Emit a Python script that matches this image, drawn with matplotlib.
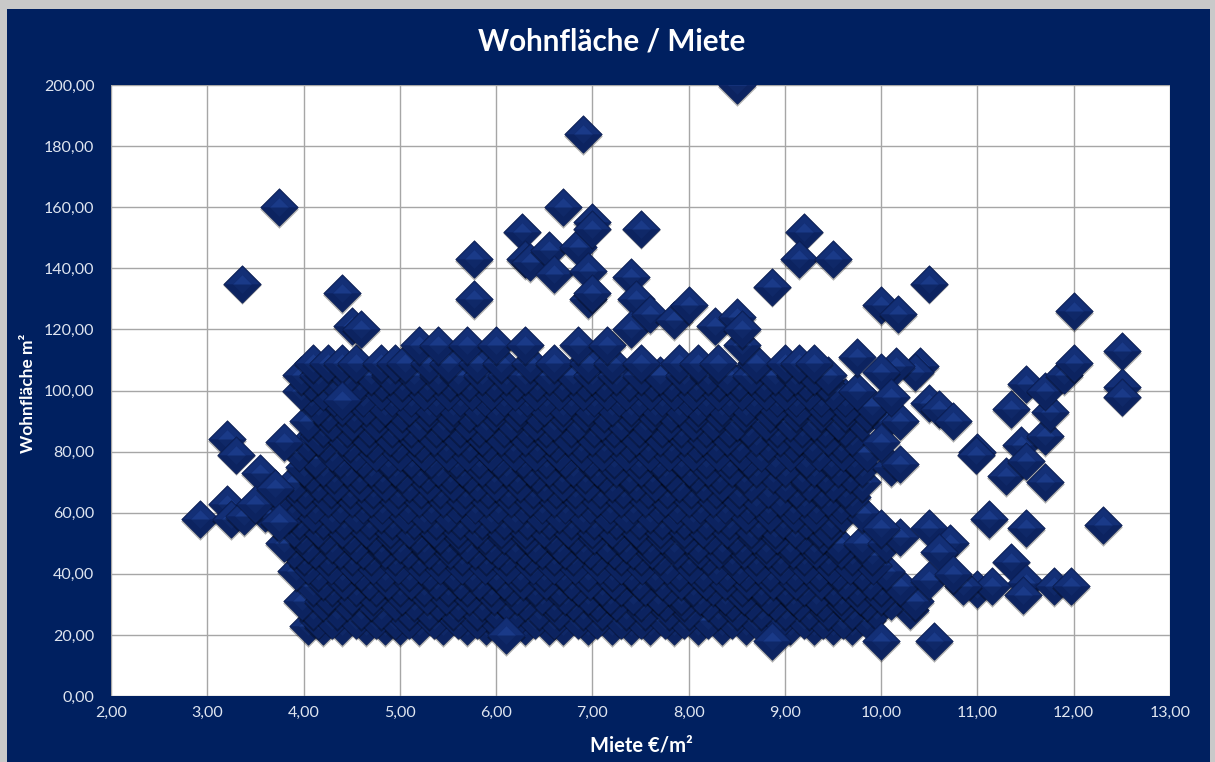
import matplotlib
matplotlib.use("Agg")
import matplotlib.pyplot as plt
from matplotlib.path import Path
from matplotlib.patches import Rectangle

# scattered points around the block
outlier_rent = [2.92, 3.2, 3.2, 3.25, 3.3, 3.38, 3.36, 3.75, 3.55, 3.5, 3.8, 3.7, 3.75,
                4.4, 4.5, 4.6, 4.4, 5.77, 5.77, 6.27, 6.3, 6.35, 6.55, 6.6, 6.7, 6.9,
                6.85, 6.95, 7.0, 7.0, 6.95, 7.0, 7.5, 7.4, 7.45, 7.4, 7.6, 7.85, 8.0,
                8.5, 8.27, 8.5, 8.55, 8.87, 9.2, 9.15, 9.5, 9.75, 10.0, 10.17, 10.5,
                10.4, 10.35, 10.15, 10.0, 10.5, 10.6, 10.75, 11.0, 10.98, 11.35, 11.5,
                11.3, 11.45, 11.5, 11.7, 11.75, 11.7, 11.9, 12.0, 12.0, 12.5, 12.5,
                12.5, 11.7, 11.12, 11.5, 12.3, 11.35, 11.5, 11.47, 11.8, 11.97, 11.0,
                11.15, 10.85, 10.55, 10.5, 10.72, 10.6, 10.5, 10.75, 10.2, 10.2, 10.2,
                10.1, 10.0, 10.0, 10.0, 8.87, 6.1]
outlier_area = [58, 84, 63, 58, 79, 59, 135, 160, 73, 63, 83, 68, 57,
                132, 121, 120, 97, 143, 130, 152, 143, 142, 146, 138, 160, 184,
                147, 139, 155, 153, 130, 132, 153, 137, 130, 120, 125, 123, 128,
                200, 121, 124, 120, 134, 152, 143, 143, 111, 128, 125, 135,
                108, 106, 108, 106, 96, 94, 90, 80, 79, 94, 102,
                72, 82, 77, 85, 93, 100, 105, 109, 126, 113, 101,
                98, 70, 58, 55, 56, 44, 37, 33, 36, 36, 35,
                36, 36, 18, 55, 50, 47, 38, 40, 52, 76, 90,
                98, 83, 55, 18, 18, 20]

# the dense block, one list of rents per living area
row_23 = [4.05, 4.2, 4.4, 4.65, 4.85, 5.0, 5.2, 5.45, 5.7, 5.9, 6.05, 6.3, 6.55, 6.7, 6.95, 7.2, 7.4, 7.6, 7.85, 8.1, 8.35, 8.6, 8.8, 9.05, 9.3, 9.5, 9.7]
row_25 = [4.15, 4.3, 4.55, 4.75, 4.95, 5.1, 5.35, 5.6, 5.8, 6.0, 6.2, 6.4, 6.6, 6.85, 7.05, 7.3, 7.5, 7.75, 7.95, 8.2, 8.45, 8.7, 8.95, 9.2, 9.4, 9.6, 9.85]
row_28 = [4.1, 4.35, 4.6, 4.8, 5.1, 5.3, 5.55, 5.8, 6.0, 6.2, 6.45, 6.65, 6.9, 7.1, 7.35, 7.55, 7.8, 8.0, 8.3, 8.5, 8.75, 9.0, 9.25, 9.45, 9.7, 9.95, 10.3]
row_31 = [3.98, 4.2, 4.45, 4.7, 4.95, 5.15, 5.4, 5.6, 5.85, 6.1, 6.3, 6.6, 6.8, 7.05, 7.25, 7.5, 7.75, 7.95, 8.2, 8.45, 8.65, 8.9, 9.15, 9.4, 9.6, 9.85, 10.1, 10.35]
row_33 = [4.25, 4.5, 4.72, 5.02, 5.28, 5.48, 5.72, 5.98, 6.22, 6.48, 6.72, 6.95, 7.18, 7.42, 7.68, 7.92, 8.12, 8.38, 8.58, 8.82, 9.08, 9.32, 9.58, 9.78, 10.0]
row_36 = [4.1, 4.3, 4.55, 4.75, 5.0, 5.25, 5.5, 5.7, 5.95, 6.15, 6.4, 6.65, 6.85, 7.1, 7.3, 7.55, 7.8, 8.05, 8.25, 8.55, 8.75, 9.0, 9.2, 9.5, 9.75, 10.0, 10.2]
row_38 = [4.2, 4.42, 4.68, 4.88, 5.12, 5.38, 5.62, 5.82, 6.08, 6.28, 6.52, 6.78, 6.98, 7.22, 7.48, 7.72, 7.92, 8.18, 8.38, 8.62, 8.88, 9.12, 9.38, 9.62, 9.88]
row_41 = [3.92, 4.15, 4.4, 4.6, 4.85, 5.1, 5.3, 5.55, 5.75, 6.0, 6.25, 6.5, 6.7, 6.95, 7.2, 7.4, 7.65, 7.9, 8.15, 8.4, 8.6, 8.85, 9.1, 9.35, 9.55, 9.8, 10.05]
row_43 = [4.05, 4.28, 4.52, 4.72, 4.98, 5.22, 5.42, 5.65, 5.88, 6.12, 6.38, 6.6, 6.82, 7.08, 7.3, 7.52, 7.78, 8.02, 8.28, 8.52, 8.72, 8.98, 9.22, 9.48, 9.68, 9.92]
row_46 = [4.0, 4.25, 4.5, 4.7, 4.95, 5.2, 5.4, 5.65, 5.9, 6.1, 6.35, 6.6, 6.8, 7.05, 7.3, 7.5, 7.7, 8.0, 8.2, 8.45, 8.7, 8.95, 9.2, 9.45, 9.7, 9.9]
row_48 = [3.9, 4.12, 4.38, 4.62, 4.85, 5.08, 5.3, 5.52, 5.78, 6.02, 6.28, 6.48, 6.72, 6.98, 7.22, 7.42, 7.62, 7.88, 8.12, 8.32, 8.58, 8.82, 9.08, 9.32, 9.58]
row_50 = [3.8, 4.05, 4.3, 4.55, 4.8, 5.0, 5.25, 5.5, 5.7, 5.95, 6.2, 6.4, 6.65, 6.9, 7.15, 7.35, 7.6, 7.85, 8.1, 8.35, 8.55, 8.8, 9.05, 9.3, 9.55, 9.8, 10.05]
row_53 = [3.98, 4.22, 4.48, 4.72, 4.92, 5.18, 5.42, 5.62, 5.88, 6.08, 6.32, 6.58, 6.82, 7.02, 7.28, 7.52, 7.72, 7.98, 8.22, 8.48, 8.68, 8.92, 9.18, 9.4]
row_55 = [3.9, 4.15, 4.4, 4.65, 4.9, 5.1, 5.35, 5.6, 5.8, 6.05, 6.3, 6.5, 6.75, 7.0, 7.2, 7.45, 7.7, 7.95, 8.15, 8.4, 8.65, 8.9, 9.1, 9.35, 9.45]
row_58 = [3.72, 3.95, 4.2, 4.42, 4.68, 4.92, 5.15, 5.38, 5.62, 5.85, 6.08, 6.32, 6.55, 6.78, 7.02, 7.25, 7.48, 7.72, 7.95, 8.18, 8.42, 8.72, 8.98, 9.22, 9.48]
row_60 = [3.6, 3.85, 4.1, 4.3, 4.55, 4.8, 5.05, 5.25, 5.5, 5.75, 5.95, 6.2, 6.45, 6.65, 6.9, 7.15, 7.35, 7.6, 7.85, 8.05, 8.3, 8.6, 8.85, 9.1, 9.3, 9.6, 9.8]
row_63 = [3.88, 4.12, 4.38, 4.62, 4.82, 5.08, 5.32, 5.58, 5.78, 6.02, 6.28, 6.48, 6.72, 6.98, 7.18, 7.42, 7.68, 7.88, 8.12, 8.38, 8.62, 8.82, 9.08, 9.32, 9.58]
row_65 = [3.75, 4.0, 4.25, 4.5, 4.7, 4.95, 5.2, 5.45, 5.65, 5.9, 6.15, 6.35, 6.6, 6.85, 7.05, 7.3, 7.55, 7.75, 8.0, 8.25, 8.5, 8.7, 8.95, 9.2, 9.45, 9.7]
row_68 = [4.02, 4.28, 4.48, 4.72, 4.98, 5.22, 5.42, 5.68, 5.92, 6.12, 6.38, 6.62, 6.82, 7.08, 7.32, 7.58, 7.78, 8.02, 8.28, 8.52, 8.82, 9.12, 9.38, 9.62]
row_70 = [3.9, 4.15, 4.35, 4.6, 4.85, 5.1, 5.3, 5.55, 5.8, 6.0, 6.25, 6.5, 6.7, 6.95, 7.2, 7.45, 7.65, 7.9, 8.15, 8.35, 8.65, 9.0, 9.25, 9.5, 9.8]
row_73 = [4.08, 4.32, 4.58, 4.82, 5.02, 5.28, 5.52, 5.72, 5.98, 6.22, 6.42, 6.68, 6.92, 7.12, 7.38, 7.62, 7.82, 8.08, 8.32, 8.58, 8.88, 9.18, 9.42, 9.68]
row_75 = [4.0, 4.2, 4.45, 4.7, 4.95, 5.2, 5.4, 5.65, 5.85, 6.1, 6.35, 6.55, 6.8, 7.05, 7.25, 7.5, 7.75, 8.0, 8.2, 8.45, 8.7, 9.0, 9.3, 9.55, 9.8, 10.1]
row_78 = [4.12, 4.38, 4.62, 4.88, 5.12, 5.32, 5.58, 5.82, 6.02, 6.28, 6.52, 6.72, 6.98, 7.22, 7.48, 7.68, 7.92, 8.18, 8.42, 8.62, 8.9, 9.22, 9.48, 9.72]
row_80 = [3.95, 4.3, 4.55, 4.75, 5.0, 5.25, 5.5, 5.7, 5.95, 6.2, 6.4, 6.65, 6.9, 7.1, 7.35, 7.6, 7.8, 8.05, 8.3, 8.55, 8.75, 9.05, 9.35, 9.6, 9.85]
row_83 = [4.05, 4.22, 4.48, 4.72, 4.98, 5.22, 5.48, 5.72, 5.92, 6.18, 6.42, 6.62, 6.88, 7.12, 7.38, 7.58, 7.82, 8.08, 8.28, 8.52, 8.82, 9.08, 9.28, 9.58]
row_85 = [4.15, 4.4, 4.65, 4.9, 5.15, 5.35, 5.6, 5.85, 6.05, 6.3, 6.55, 6.75, 7.0, 7.25, 7.45, 7.7, 7.95, 8.15, 8.4, 8.7, 8.95, 9.15, 9.45, 9.7]
row_88 = [4.2, 4.45, 4.68, 4.92, 5.12, 5.38, 5.62, 5.82, 6.08, 6.32, 6.52, 6.78, 7.02, 7.22, 7.48, 7.72, 7.92, 8.18, 8.42, 8.62, 8.92, 9.18, 9.42, 9.62]
row_90 = [4.05, 4.3, 4.5, 4.75, 5.0, 5.2, 5.45, 5.7, 5.9, 6.15, 6.4, 6.6, 6.85, 7.1, 7.3, 7.55, 7.8, 8.05, 8.25, 8.5, 8.8, 9.05, 9.3, 9.55, 9.8, 10.05]
row_93 = [4.25, 4.52, 4.78, 5.02, 5.28, 5.52, 5.72, 5.98, 6.22, 6.42, 6.68, 6.92, 7.12, 7.38, 7.62, 7.82, 8.08, 8.32, 8.58, 8.85, 9.12, 9.38, 9.62, 9.85]
row_95 = [4.15, 4.4, 4.65, 4.85, 5.1, 5.3, 5.55, 5.8, 6.0, 6.25, 6.5, 6.7, 6.95, 7.2, 7.4, 7.65, 7.9, 8.1, 8.35, 8.6, 8.9, 9.15, 9.4, 9.65, 9.9]
row_98 = [4.08, 4.32, 4.62, 4.92, 5.12, 5.38, 5.62, 5.88, 6.08, 6.32, 6.52, 6.78, 7.02, 7.28, 7.48, 7.72, 7.98, 8.18, 8.42, 8.68, 8.92, 9.12, 9.38, 9.62]
row_100 = [3.97, 4.2, 4.5, 4.8, 5.0, 5.25, 5.5, 5.75, 5.95, 6.2, 6.4, 6.65, 6.9, 7.15, 7.35, 7.6, 7.85, 8.05, 8.3, 8.55, 8.8, 9.0, 9.25, 9.5, 9.75]
row_103 = [4.08, 4.32, 4.58, 4.82, 5.02, 5.28, 5.52, 5.72, 5.98, 6.22, 6.42, 6.68, 6.92, 7.12, 7.38, 7.62, 7.82, 8.08, 8.32, 8.52, 8.78, 9.02, 9.22, 9.42]
row_105 = [3.97, 4.15, 4.45, 4.7, 4.9, 5.15, 5.4, 5.6, 5.85, 6.1, 6.3, 6.55, 6.8, 7.0, 7.25, 7.5, 7.7, 7.95, 8.2, 8.4, 8.65, 8.9, 9.1, 9.3, 9.45]
row_109 = [4.1, 4.25, 4.4, 4.55, 4.8, 4.95, 5.05, 5.3, 5.5, 5.8, 6.05, 6.35, 6.6, 6.95, 7.2, 7.5, 7.9, 8.1, 8.3, 8.7, 9.0, 9.15, 9.3]
row_115 = [5.2, 5.4, 5.7, 6.0, 6.3, 6.85, 7.15, 8.55]
row_areas = [23, 25, 28, 31, 33, 36, 38, 41, 43, 46, 48, 50, 53, 55, 58, 60, 63, 65, 68, 70,
             73, 75, 78, 80, 83, 85, 88, 90, 93, 95, 98, 100, 103, 105, 109, 115]
row_rents = [row_23, row_25, row_28, row_31, row_33, row_36, row_38, row_41, row_43, row_46,
             row_48, row_50, row_53, row_55, row_58, row_60, row_63, row_65, row_68, row_70,
             row_73, row_75, row_78, row_80, row_83, row_85, row_88, row_90, row_93, row_95,
             row_98, row_100, row_103, row_105, row_109, row_115]

x_ticks = list(range(2, 14))
y_ticks = list(range(0, 201, 20))

NAVY = "#002060"
TICK_COL = "#dfe5f0"

# facets of the bevelled diamond, all scaled to the same +-1 box
box = [(-1, -1), (1, -1), (1, 1), (-1, 1), (-1, -1)]
def facet(pts):
    # the invisible box keeps every facet at the same marker scale
    verts = pts + [pts[0]] + box
    codes = [Path.MOVETO] + [Path.LINETO] * (len(pts) - 1) + [Path.CLOSEPOLY] \
        + [Path.MOVETO] * 5
    return Path(verts, codes)

DIAMOND = facet([(0, 1), (1, 0), (0, -1), (-1, 0)])
TOP = facet([(-0.92, 0), (0, 0.92), (0.92, 0), (0.5, 0), (0, 0.5), (-0.5, 0)])
INNER = facet([(-0.5, 0), (0, 0.5), (0.5, 0)])
BOTTOM = facet([(-0.92, 0), (0, -0.92), (0.92, 0), (0.5, 0), (0, -0.5), (-0.5, 0)])
MS = 27


def draw_point(ax, x, y, z):
    # shadow first, then the facets, so later points cover earlier ones
    ax.plot([x], [y - 0.6], marker=DIAMOND, ms=MS + 0.8, mfc="#000000", mec="none",
            alpha=0.3, zorder=z, ls="none")
    ax.plot([x], [y], marker=DIAMOND, ms=MS, mfc="#0f2868", mec="#0a1c50", mew=0.5,
            zorder=z, ls="none")
    ax.plot([x], [y], marker=TOP, ms=MS, mfc="#132f76", mec="none", zorder=z, ls="none")
    ax.plot([x], [y], marker=BOTTOM, ms=MS, mfc="#0c2360", mec="none", zorder=z, ls="none")
    ax.plot([x], [y], marker=INNER, ms=MS, mfc="#1a3a88", mec="none", zorder=z, ls="none")


fig = plt.figure(figsize=(12.15, 7.62), dpi=100, facecolor="#c9c9c9")
plt.rcParams["font.family"] = ["Lato", "DejaVu Sans"]

# navy chart area inside the grey frame, behind the axes
fig.add_artist(Rectangle((7 / 1215, 0), 1203 / 1215, 753 / 762, transform=fig.transFigure,
                         facecolor=NAVY, edgecolor="none", zorder=-1))

ax = fig.add_axes([111 / 1215, 1 - 696 / 762, 1059 / 1215, 611 / 762])
ax.set_facecolor("white")
ax.set_xlim(2, 13)
ax.set_ylim(0, 200)
ax.set_xticks(x_ticks)
ax.set_yticks(y_ticks)
ax.set_xticklabels(["%d,00" % v for v in x_ticks])
ax.set_yticklabels(["%d,00" % v for v in y_ticks])
ax.tick_params(axis="x", length=0, labelsize=11.5, labelcolor=TICK_COL, pad=7)
ax.tick_params(axis="y", length=0, labelsize=11.5, labelcolor=TICK_COL, pad=12)
ax.grid(True, color="#a6a6a6", lw=1)
ax.set_axisbelow(True)
for s in ax.spines.values():
    s.set_visible(False)

z = 3
for area, rents in zip(row_areas, row_rents):
    for rent in rents:
        draw_point(ax, rent, area, z)
        z += 0.001
for rent, area in zip(outlier_rent, outlier_area):
    draw_point(ax, rent, area, z)
    z += 0.001

fig.text(612 / 1215, 1 - 41 / 762, "Wohnfläche / Miete", color="white", fontsize=21.3,
         fontweight="bold", ha="center", va="center")
fig.text(641 / 1215, 1 - 746 / 762, "Miete €/m²", color="white", fontsize=14.5,
         fontweight="bold", ha="center", va="center")
fig.text(28 / 1215, 1 - 393 / 762, "Wohnfläche m²", color="white", fontsize=12.5,
         fontweight="bold", ha="center", va="center", rotation=90)

fig.savefig("out.png", dpi=100, facecolor=fig.get_facecolor())
